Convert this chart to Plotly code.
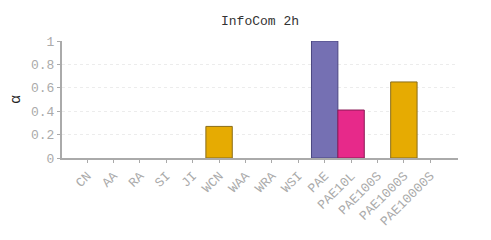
import plotly.graph_objects as go

categories = ["CN", "AA", "RA", "SI", "JI", "WCN", "WAA", "WRA", "WSI",
              "PAE", "PAE10L", "PAE100S", "PAE1000S", "PAE10000S"]
values = [0, 0, 0, 0, 0, 0.27, 0, 0, 0, 1.0, 0.41, 0, 0.65, 0]
fill_colors = ["#E6AB02"] * 9 + ["#7570B3", "#E7298A", "#E6AB02", "#E6AB02", "#E6AB02"]
line_colors = ["#8a6d1a"] * 9 + ["#4a4680", "#8a1a55", "#8a6d1a", "#8a6d1a", "#8a6d1a"]
y_ticks = [0, 0.2, 0.4, 0.6, 0.8, 1]
y_tick_text = ["0", "0.2", "0.4", "0.6", "0.8", "1"]

font = "Liberation Mono, Courier New, monospace"

line_widths = [1 if v > 0 else 0 for v in values]

# page body has an 8px default margin; size the figure to compensate
W, H = 483, 232

fig = go.Figure(go.Bar(
    x=list(range(len(categories))),
    y=values,
    width=1,
    marker=dict(color=fill_colors, line=dict(color=line_colors, width=line_widths)),
))

fig.update_layout(
    width=W, height=H,
    margin=dict(l=54, r=33, t=33, b=82, autoexpand=False),
    paper_bgcolor="white", plot_bgcolor="white",
    showlegend=False,
    title=dict(text="InfoCom 2h", x=252 / W, xanchor="center", y=1 - 12 / H, yanchor="middle",
               font=dict(family=font, size=13, color="#333")),
    font=dict(family=font, size=13, color="#aaa"),
)
fig.update_xaxes(
    tickmode="array", tickvals=list(range(len(categories))), ticktext=categories,
    range=[-0.95, 14.05], tickangle=-45, automargin=False,
    showline=True, linecolor="#aaa", linewidth=2,
    ticks="outside", ticklen=3, tickcolor="#aaa",
    showgrid=False, zeroline=False,
    tickfont=dict(family=font, size=13, color="#aaa"),
)
fig.update_yaxes(
    range=[0, 1], tickmode="array", tickvals=y_ticks, ticktext=y_tick_text,
    automargin=False,
    showline=True, linecolor="#aaa", linewidth=2,
    ticks="outside", ticklen=3, tickcolor="#aaa",
    showgrid=True, gridcolor="#ececec", griddash="dot", gridwidth=1,
    zeroline=False,
    title=dict(text="α", font=dict(family=font, size=15, color="#222"), standoff=10),
    tickfont=dict(family=font, size=13, color="#aaa"),
)

fig.write_html("out.html")
